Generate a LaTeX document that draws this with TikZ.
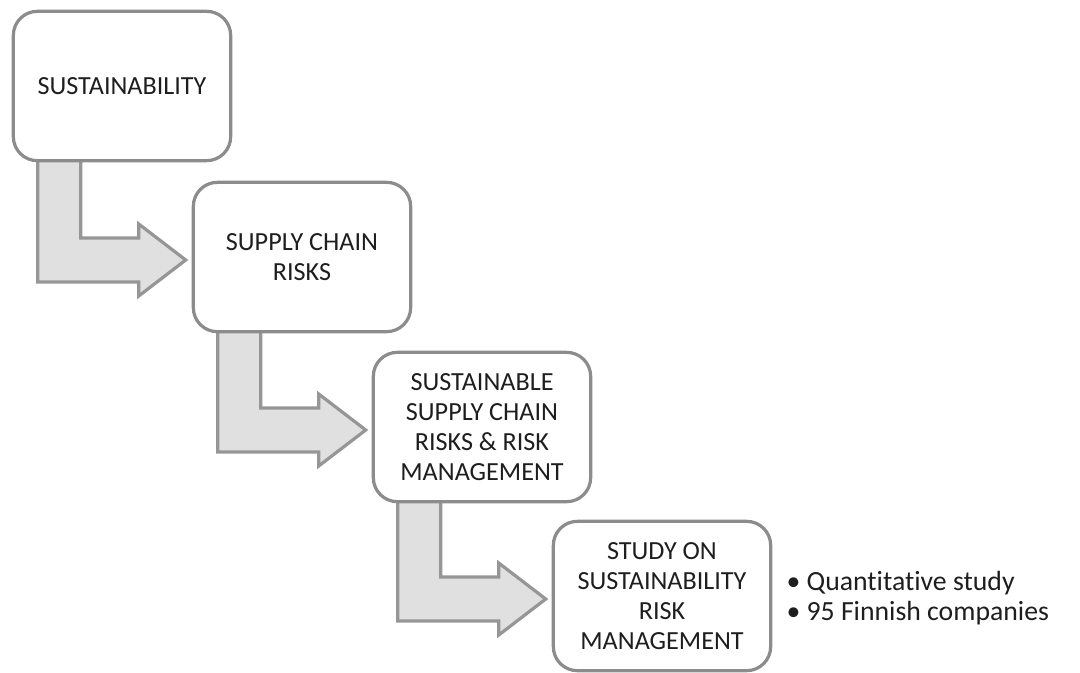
\documentclass[tikz,border=0pt]{standalone}
\usepackage{fontspec}
\setmainfont{Carlito}[Ligatures=NoCommon]
\usetikzlibrary{calc,backgrounds}
\definecolor{boxline}{RGB}{140,140,140}
\definecolor{arrline}{RGB}{150,150,150}
\definecolor{arrfill}{RGB}{224,224,224}
\definecolor{txt}{RGB}{30,30,30}
\tikzset{
  stagebox/.style={draw=boxline, line width=2.4pt, rounded corners=18pt, fill=white,
    minimum width=163pt, minimum height=112pt, align=center, inner sep=2pt,
    text=txt, font=\fontsize{19.6}{22.5}\selectfont},
  bentarrowshape/.style={draw=arrline, fill=arrfill, line width=2.4pt, line join=miter},
  notes/.style={anchor=west, align=left, inner sep=0pt, text=txt,
    font=\fontsize{20.8}{22.5}\selectfont}
}
\newcommand{\bentarrow}[2]{%
  \path ($(#1.south west)+(26,-4)$) coordinate (#1L)
        ($(#1.south west)+(69,-4)$) coordinate (#1R)
        ($(#2.west)+(-6,3)$) coordinate (#1T)
        ($(#2.west)+(-53,3)$) coordinate (#1B);
  \draw[bentarrowshape] (#1L) -- ($(#1L |- #1T)+(0,22)$) -- ($(#1B)+(0,22)$)
     -- ($(#1B)+(0,36)$) -- (#1T) -- ($(#1B)+(0,-36)$) -- ($(#1B)+(0,-22)$)
     -- ($(#1R |- #1T)+(0,-22)$) -- (#1R) -- cycle;
}
\begin{document}
\begin{tikzpicture}[x=0.75pt,y=-0.75pt]
\useasboundingbox (0,0) rectangle (1080,672);
\node[stagebox] (b1) at (122,86) {SUSTAINABILITY};
\node[stagebox] (b2) at (302,257) {SUPPLY CHAIN\\RISKS};
\node[stagebox] (b3) at (482,427) {SUSTAINABLE\\SUPPLY CHAIN\\RISKS \& RISK\\MANAGEMENT};
\node[stagebox] (b4) at (662,596) {STUDY ON\\SUSTAINABILITY\\RISK\\MANAGEMENT};
\begin{scope}[on background layer]
\bentarrow{b1}{b2}
\bentarrow{b2}{b3}
\bentarrow{b3}{b4}
\end{scope}
\node[notes] (n) at ($(b4.east)+(14,2)$) {• Quantitative study\\• 95 Finnish companies};
\end{tikzpicture}
\end{document}
